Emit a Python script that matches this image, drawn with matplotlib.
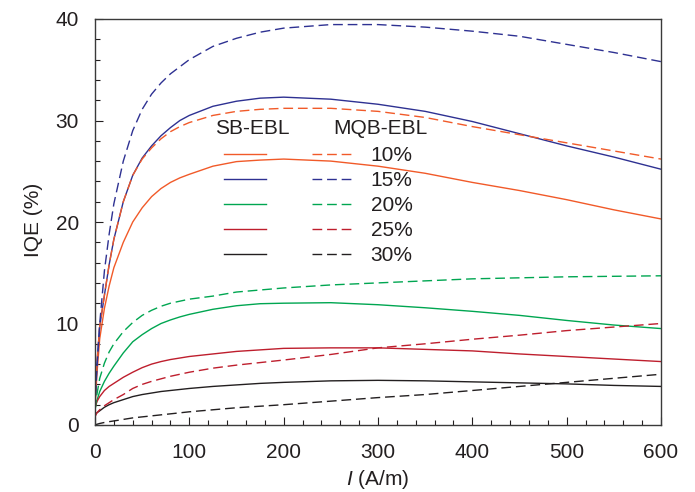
import numpy as np
import matplotlib.pyplot as plt
from matplotlib.lines import Line2D
from matplotlib.ticker import MultipleLocator

plt.rcParams['font.family'] = ['Liberation Sans', 'DejaVu Sans']
plt.rcParams['mathtext.fontset'] = 'custom'
plt.rcParams['mathtext.it'] = 'Liberation Sans:italic'
plt.rcParams['mathtext.rm'] = 'Liberation Sans'

# current density (A/m)
I = [0, 2, 5, 10, 15, 20, 30, 40, 50, 60, 70, 80, 90, 100, 125, 150, 175, 200,
     250, 300, 350, 400, 450, 500, 550, 600]

# SB-EBL
sb_10 = [1.5, 5.0, 8.5, 11.5, 13.7, 15.5, 18.0, 20.0, 21.4, 22.5, 23.3, 23.9, 24.35, 24.7, 25.5, 25.95, 26.1, 26.2,
         26.0, 25.5, 24.8, 23.9, 23.1, 22.2, 21.2, 20.3]
sb_15 = [2.0, 6.0, 9.7, 12.8, 15.8, 18.3, 22.0, 24.6, 26.3, 27.5, 28.5, 29.3, 30.0, 30.5, 31.4, 31.9, 32.2, 32.3,
         32.1, 31.6, 30.9, 29.9, 28.7, 27.5, 26.4, 25.2]
sb_20 = [1.5, 2.4, 3.3, 4.3, 5.1, 5.8, 7.1, 8.2, 8.9, 9.5, 10.0, 10.35, 10.65, 10.9, 11.4, 11.75, 11.95, 12.0,
         12.05, 11.85, 11.55, 11.2, 10.8, 10.3, 9.85, 9.5]
sb_25 = [1.7, 2.3, 2.8, 3.4, 3.8, 4.1, 4.7, 5.2, 5.65, 6.0, 6.25, 6.45, 6.6, 6.75, 7.0, 7.25, 7.4, 7.55,
         7.6, 7.6, 7.45, 7.3, 7.0, 6.75, 6.5, 6.25]
sb_30 = [1.0, 1.2, 1.4, 1.75, 2.0, 2.2, 2.5, 2.8, 3.0, 3.15, 3.3, 3.4, 3.5, 3.6, 3.8, 3.95, 4.1, 4.2,
         4.35, 4.4, 4.35, 4.25, 4.15, 4.05, 3.9, 3.8]

# MQB-EBL
mqb_10 = [2.0, 6.0, 9.7, 12.8, 15.8, 18.3, 22.0, 24.6, 26.2, 27.3, 28.2, 28.9, 29.4, 29.8, 30.5, 30.9, 31.1, 31.2,
          31.2, 30.9, 30.3, 29.4, 28.6, 27.8, 27.0, 26.2]
mqb_15 = [1.5, 5.5, 10.0, 15.2, 18.8, 21.8, 26.0, 29.0, 31.1, 32.6, 33.7, 34.6, 35.3, 36.0, 37.3, 38.1, 38.7, 39.1,
          39.45, 39.45, 39.2, 38.8, 38.3, 37.5, 36.7, 35.8]
mqb_20 = [1.5, 3.0, 4.6, 6.1, 7.2, 8.0, 9.2, 10.1, 10.8, 11.3, 11.7, 12.0, 12.2, 12.4, 12.7, 13.1, 13.3, 13.5,
          13.8, 14.0, 14.2, 14.4, 14.5, 14.6, 14.65, 14.7]
mqb_25 = [0.8, 1.2, 1.5, 1.9, 2.2, 2.5, 3.0, 3.6, 4.0, 4.3, 4.55, 4.8, 5.0, 5.2, 5.6, 5.9, 6.15, 6.4,
          6.95, 7.6, 8.0, 8.45, 8.85, 9.3, 9.65, 10.0]
mqb_30 = [0.0, 0.07, 0.15, 0.25, 0.33, 0.4, 0.55, 0.7, 0.8, 0.9, 1.0, 1.1, 1.2, 1.3, 1.5, 1.7, 1.85, 2.0,
          2.35, 2.7, 3.0, 3.4, 3.8, 4.2, 4.6, 5.0]

labels = ['10%', '15%', '20%', '25%', '30%']
colors = ['#F15A29', '#2E3192', '#00A651', '#BE1E2D', '#231F20']
sb = [sb_10, sb_15, sb_20, sb_25, sb_30]
mqb = [mqb_10, mqb_15, mqb_20, mqb_25, mqb_30]

fig = plt.figure(figsize=(6.95, 4.92), dpi=100)
ax = fig.add_axes([95/695, 1 - 425/492, 566/695, 406/492])

dash = (7, 3.5)
for y, c in zip(sb, colors):
    ax.plot(I, y, color=c, lw=1.0)
for y, c in zip(mqb, colors):
    ax.plot(I, y, color=c, lw=1.0, dashes=dash)

ax.set_xlim(0, 600)
ax.set_ylim(0, 40)
ax.xaxis.set_major_locator(MultipleLocator(100))
ax.xaxis.set_minor_locator(MultipleLocator(20))
ax.yaxis.set_major_locator(MultipleLocator(10))
ax.yaxis.set_minor_locator(MultipleLocator(2))

tc = '#231F20'
ax.tick_params(which='both', direction='in', colors=tc, width=0.8)
ax.tick_params(which='major', length=5.8, labelsize=15)
ax.tick_params(which='minor', length=3.6)
ax.tick_params(axis='x', which='major', pad=13)
ax.tick_params(axis='y', which='major', pad=11.5)
for s in ax.spines.values():
    s.set_linewidth(1.0)
    s.set_color('#3a3a3a')

ax.set_xlabel(r'$\mathit{I}$ (A/m)', fontsize=15, color=tc)
ax.set_ylabel('IQE (%)', fontsize=15, color=tc)
ax.xaxis.set_label_coords(0.5, -0.106)
ax.yaxis.set_label_coords(-0.092, 0.505)

# legend: two columns (SB-EBL solid, MQB-EBL dashed)
handles = [Line2D([], [], color=c, lw=1.0) for c in colors]
handles += [Line2D([], [], color=c, lw=1.0, dashes=dash) for c in colors]
leg = ax.legend(handles, [''] * 5 + labels, ncol=2, frameon=False,
                loc='upper left', bbox_to_anchor=(0.228, 0.687),
                borderaxespad=0, borderpad=0, fontsize=15,
                handlelength=2.0, handletextpad=0.8, columnspacing=1.43,
                labelspacing=0.286)
for t in leg.get_texts():
    t.set_color(tc)
ax.text(0.212, 0.7315, 'SB-EBL', transform=ax.transAxes, fontsize=15,
        color=tc, va='center', ha='left')
ax.text(0.4205, 0.7315, 'MQB-EBL', transform=ax.transAxes, fontsize=15,
        color=tc, va='center', ha='left')

fig.savefig('out.png', dpi=100)
